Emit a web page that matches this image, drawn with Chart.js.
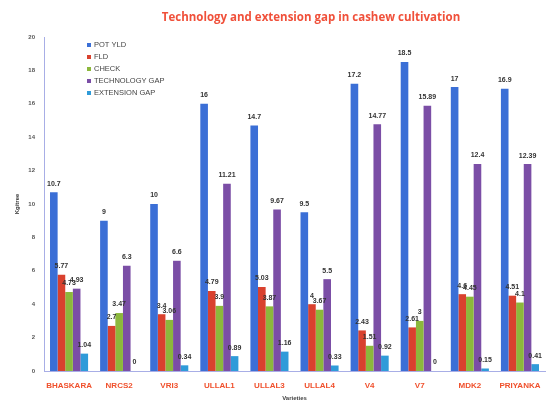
<!DOCTYPE html>
<html><head><meta charset="utf-8">
<script src="https://cdn.jsdelivr.net/npm/chart.js@4.4.0/dist/chart.umd.min.js"></script>
<style>html,body{margin:0;padding:0;background:#fff}#wrap{width:560px;height:402px}</style>
</head><body><div id="wrap"><canvas id="c" width="560" height="402"></canvas></div>
<script>
const categories = ["BHASKARA","NRCS2","VRI3","ULLAL1","ULLAL3","ULLAL4","V4","V7","MDK2","PRIYANKA"];
const potYld   = [10.7, 9, 10, 16, 14.7, 9.5, 17.2, 18.5, 17, 16.9];
const fld      = [5.77, 2.7, 3.4, 4.79, 5.03, 4, 2.43, 2.61, 4.6, 4.51];
const check    = [4.73, 3.47, 3.06, 3.9, 3.87, 3.67, 1.51, 3, 4.45, 4.1];
const techGap  = [4.93, 6.3, 6.6, 11.21, 9.67, 5.5, 14.77, 15.89, 12.4, 12.39];
const extGap   = [1.04, 0, 0.34, 0.89, 1.16, 0.33, 0.92, 0, 0.15, 0.41];
const yTicks   = [0,2,4,6,8,10,12,14,16,18,20];
const chartTitle = 'Technology and extension gap in cashew cultivation';

const colors = ["#3b6fd6","#d9412e","#8cb83c","#7b4ea6","#2f9bd9"];
const names = ["POT YLD","FLD","CHECK","TECHNOLOGY GAP","EXTENSION GAP"];
const series = [potYld, fld, check, techGap, extGap];

const labelPlugin = {
  id:'vals',
  afterDatasetsDraw(chart){
    const ctx = chart.ctx;
    ctx.save();
    ctx.font = 'bold 7px "Liberation Sans", Arial, sans-serif';
    ctx.fillStyle = '#333';
    ctx.textAlign = 'center';
    ctx.textBaseline = 'bottom';
    chart.data.datasets.forEach((ds,i)=>{
      const meta = chart.getDatasetMeta(i);
      meta.data.forEach((bar,j)=>{
        ctx.fillText(String(ds.data[j]), bar.x, bar.y - 5);
      });
    });
    ctx.restore();
  }
};
const legendPlugin = {
  id:'customLegend',
  afterDraw(chart){
    const ctx = chart.ctx;
    ctx.save();
    ctx.font = '7.5px "Liberation Sans", Arial, sans-serif';
    ctx.textBaseline = 'middle';
    chart.data.datasets.forEach((ds,i)=>{
      const y = 45 + i*12;
      ctx.fillStyle = ds.backgroundColor;
      ctx.fillRect(87, y-2, 4, 4);
      ctx.fillStyle = '#444';
      ctx.fillText(ds.label, 94, y);
    });
    // title
    ctx.font = 'bold 11.5px "Open Sans", sans-serif';
    ctx.fillStyle = '#f0503a';
    ctx.textAlign = 'center';
    ctx.textBaseline = 'middle';
    ctx.fillText(chartTitle, 311, 18);
    ctx.restore();
  }
};

new Chart(document.getElementById('c'), {
  type:'bar',
  data:{
    labels:categories,
    datasets: series.map((d,i)=>({label:names[i], data:d, backgroundColor:colors[i], borderWidth:0,
      categoryPercentage:0.76, barPercentage:1.0}))
  },
  options:{
    responsive:false, animation:false,
    layout:{padding:{left:4,right:15,top:37,bottom:0}},
    plugins:{
      legend:{display:false},
      tooltip:{enabled:false},
      title:{display:false}
    },
    scales:{
      x:{
        grid:{display:false, drawTicks:false},
        border:{display:true, color:'#a8aee6', dash:[3,2], width:1},
        ticks:{color:'#f0502c', font:{family:'"Liberation Sans", Arial, sans-serif', size:8, weight:'bold'}, padding:10, maxRotation:0, autoSkip:false},
        title:{display:true, text:'Varieties', color:'#444', font:{size:6, weight:'bold'}, padding:{top:3,bottom:0}},
        afterFit(s){ s.height = 31; }
      },
      y:{
        min:0, max:20,
        afterBuildTicks(s){ s.ticks = yTicks.map(v=>({value:v})); },
        grid:{display:false, drawTicks:false},
        border:{display:true, color:'#a8aee6', dash:[3,2], width:1},
        ticks:{color:'#555', font:{family:'"Liberation Sans", Arial, sans-serif', size:6, weight:'bold'}, padding:9},
        title:{display:true, text:'Kg/tree', color:'#333', font:{size:6, weight:'bold'}, padding:{top:10,bottom:4}},
        afterFit(s){ s.width = 40; }
      }
    }
  },
  plugins:[labelPlugin, legendPlugin]
});
</script></body></html>
